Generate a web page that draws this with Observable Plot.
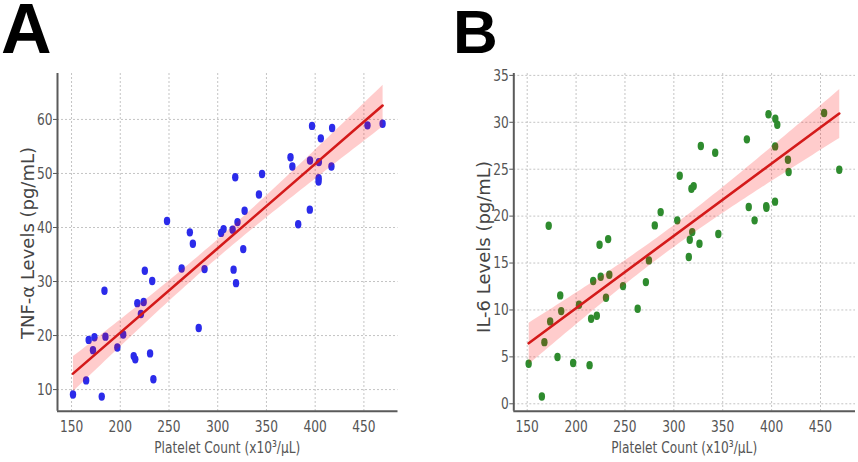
<!DOCTYPE html>
<html>
<head>
<meta charset="utf-8">
<script src="https://cdn.jsdelivr.net/npm/d3@7"></script>
<script src="https://cdn.jsdelivr.net/npm/@observablehq/plot@0.6"></script>
<style>
  html, body { margin: 0; padding: 0; background: #fff; }
  #wrap { position: relative; width: 858px; height: 462px; overflow: hidden; background: #fff; }
  #wrap svg { position: absolute; top: 0; overflow: visible; }
  .letter { position: absolute; font-family: 'Liberation Sans', Arial, sans-serif; font-weight: bold; color: #000; white-space: nowrap; }
</style>
</head>
<body>
<div id="wrap"></div>
<script>
// ---- data ----
const platelet = [151.5,165,167.6,172,173.5,181,183.8,184.8,197,203,213.8,215.4,217.5,221.2,224,225.2,230.6,232.8,234,248,263,271.4,274.5,280.5,286.5,303.5,306,315.3,316.3,318,318.8,320.3,326.2,327.6,342.3,345.5,374.7,376.6,382.6,394.5,394.7,396.8,403.8,403.6,403.5,405.8,416.7,417.4,453.7,469.2];
const tnfAlpha = [9.1,11.7,19.2,17.3,19.7,8.7,28.3,19.8,17.8,20.2,16.2,15.6,26.0,24.0,26.2,32.0,16.7,30.1,11.9,41.2,32.4,39.1,37.0,21.4,32.3,39.0,39.7,39.6,32.2,49.3,29.7,41.0,36.0,43.1,46.1,49.9,53.0,51.3,40.6,43.3,52.4,58.8,52.1,49.1,48.5,56.5,51.3,58.4,58.9,59.2];
const il6 = [4.26,0.78,6.57,18.98,8.78,4.98,11.55,9.88,4.34,10.55,4.12,9.06,13.08,9.38,16.95,13.54,11.3,17.55,13.75,12.54,10.13,12.97,15.28,19.01,20.43,19.55,24.31,15.64,17.48,22.92,18.3,23.2,17.06,27.47,26.76,18.09,28.18,20.97,19.55,21.07,20.9,30.85,30.38,27.43,21.54,29.74,26.01,24.7,30.99,24.95];

const xTicks = [150,200,250,300,350,400,450];
const yTicksA = [10,20,30,40,50,60];
const yTicksB = [0,5,10,15,20,25,30,35];
const xLabel = "Platelet Count (x10³/μL)";
const panels = [
  {letter:"A", y: tnfAlpha, yLabel:"TNF-α Levels (pg/mL)", yTicks: yTicksA, color:"#2b2bea",
   xDomain:[135.6,485], yDomain:[6,68.5], left:0, mL:57, mR:31.5,
   letterBox:{left:1, top:2.75, size:70, lh:52}, yLabelX:28, yLabelY:243},
  {letter:"B", y: il6, yLabel:"IL-6 Levels (pg/mL)", yTicks: yTicksB, color:"#2e8b2e",
   xDomain:[136.3,485.8], yDomain:[-0.79,35.2], left:429, mL:84.3, mR:3,
   letterBox:{left:453, top:8.5, size:62, lh:46}, yLabelX:55, yLabelY:247}
];

const font = "'DejaVu Sans', sans-serif";
const squish = 0.74;   // the reference's text is horizontally condensed
const wrap = document.getElementById("wrap");
const W = 429, H = 462, mT = 73, mB = 51.3;

for (const p of panels) {
  const data = platelet.map((x, i) => ({x, y: p.y[i]}));
  const chart = Plot.plot({
    width: W, height: H,
    marginLeft: p.mL, marginRight: p.mR, marginTop: mT, marginBottom: mB,
    style: {fontFamily: font, fontSize: "16.5px", color: "#555", background: "transparent"},
    x: {domain: p.xDomain},
    y: {domain: p.yDomain},
    marks: [
      Plot.gridX(xTicks, {stroke: "#c4c4c4", strokeOpacity: 1, strokeDasharray: "2,2"}),
      Plot.gridY(p.yTicks, {stroke: "#c4c4c4", strokeOpacity: 1, strokeDasharray: "2,2"}),
      Plot.axisX(xTicks, {tickSize: 0, tickPadding: 9, label: null, fill: "#555", fontSize: 16.5, fontFamily: font}),
      Plot.axisY(p.yTicks, {tickSize: 4, tickPadding: 1, label: null, fill: "#555", stroke: "#555", fontSize: 16.5, fontFamily: font}),
      Plot.ruleX([p.xDomain[0]], {stroke: "#5a5a5a", strokeWidth: 2}),
      Plot.ruleY([p.yDomain[0]], {stroke: "#5a5a5a", strokeWidth: 2}),
      Plot.dot(data, {x: "x", y: "y", r: 3.5, fill: p.color, stroke: "none"}),
      Plot.linearRegressionY(data, {x: "x", y: "y", stroke: "#d41a1a", strokeWidth: 2.6, fill: "red", fillOpacity: 0.2})
    ]
  });
  chart.style.left = p.left + "px";
  wrap.appendChild(chart);
  const svg = d3.select(chart);

  // condense tick labels horizontally around their anchor
  svg.selectAll("text").each(function() {
    const bb = this.getBBox();
    const anchor = getComputedStyle(this).textAnchor;
    const ax = anchor === "end" ? bb.x + bb.width : anchor === "start" ? bb.x : bb.x + bb.width / 2;
    const t = this.getAttribute("transform") || "";
    this.setAttribute("transform", `${t} translate(${ax},0) scale(${squish},1) translate(${-ax},0)`);
  });

  // turn dots into slightly tall ellipses, as in the reference
  svg.selectAll("circle").each(function() {
    const c = d3.select(this);
    const e = d3.select(this.parentNode).insert("ellipse", () => this)
      .attr("cx", c.attr("cx")).attr("cy", c.attr("cy"))
      .attr("rx", 3.2).attr("ry", 4.2)
      .attr("fill", c.attr("fill") || p.color);
    if (c.attr("transform")) e.attr("transform", c.attr("transform"));
    c.remove();
  });

  svg.append("text").text(p.yLabel)
    .attr("transform", `translate(${p.yLabelX},${p.yLabelY}) rotate(-90)`)
    .attr("text-anchor", "middle").attr("dy", "0.36em")
    .style("font-family", font).style("font-size", "18px").attr("fill", "#444");
  svg.append("text").text(xLabel)
    .attr("transform", `translate(${(p.mL + W - p.mR) / 2},453) scale(${squish},1)`)
    .attr("text-anchor", "middle")
    .style("font-family", font).style("font-size", "16.5px").attr("fill", "#555");

  const lb = p.letterBox;
  const div = document.createElement("div");
  div.className = "letter";
  div.textContent = p.letter;
  Object.assign(div.style, {left: lb.left + "px", top: lb.top + "px", fontSize: lb.size + "px", lineHeight: lb.lh + "px", height: lb.lh + "px"});
  wrap.appendChild(div);
}
</script>
</body>
</html>
